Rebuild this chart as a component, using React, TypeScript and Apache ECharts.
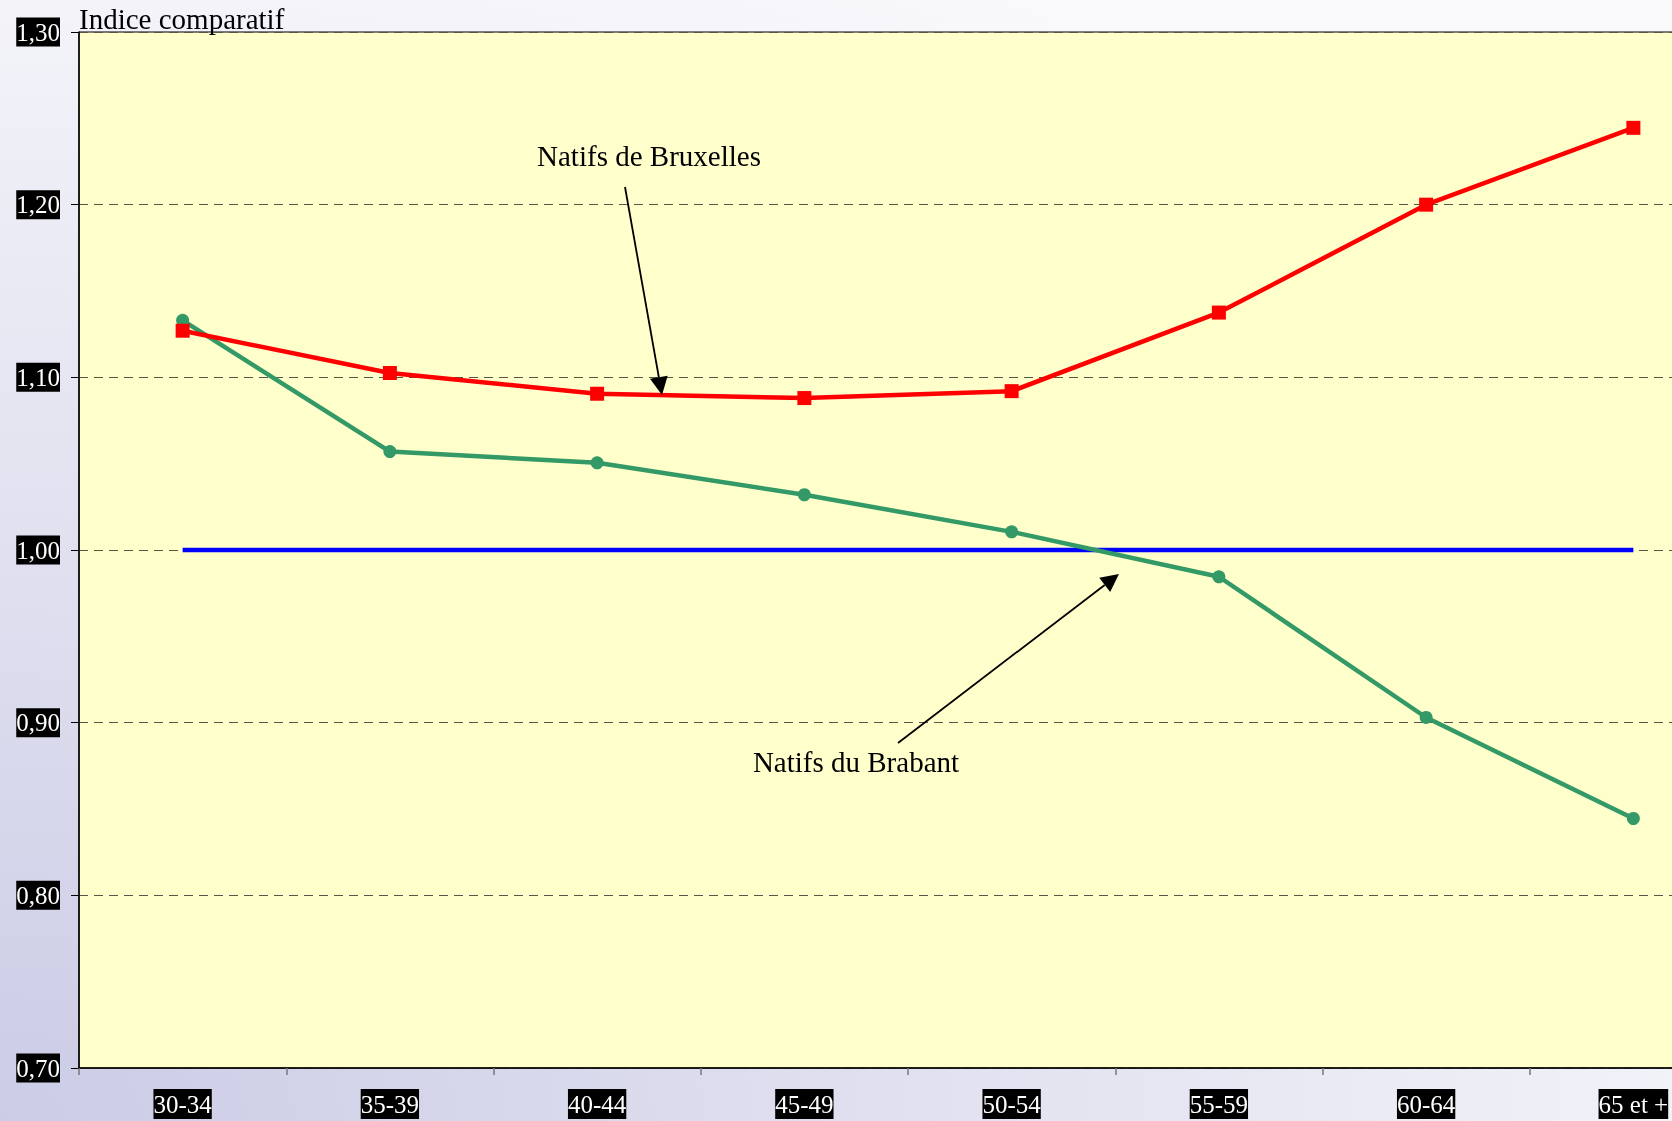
import React, { useEffect, useRef } from "react";
import * as echarts from "echarts";

const categories = ["30-34", "35-39", "40-44", "45-49", "50-54", "55-59", "60-64", "65 et +"];
const bruxelles = [1.127, 1.1025, 1.0905, 1.088, 1.092, 1.1375, 1.2, 1.2445];
const brabant = [1.133, 1.057, 1.0505, 1.032, 1.0105, 0.9845, 0.903, 0.8445];
const reference = [1, 1, 1, 1, 1, 1, 1, 1];
const yTicks = { min: 0.7, max: 1.3, interval: 0.1 };
const yAxisTitle = "Indice comparatif";
const noteBruxelles = "Natifs de Bruxelles";
const noteBrabant = "Natifs du Brabant";

const SERIF = "'Liberation Serif', 'Times New Roman', serif";

function arrowHead(tipX: number, tipY: number, fromX: number, fromY: number, len: number, half: number) {
  const dx = tipX - fromX;
  const dy = tipY - fromY;
  const d = Math.sqrt(dx * dx + dy * dy);
  const ux = dx / d;
  const uy = dy / d;
  const bx = tipX - ux * len;
  const by = tipY - uy * len;
  return [
    [tipX, tipY],
    [bx - uy * half, by + ux * half],
    [bx + uy * half, by - ux * half],
  ];
}

export default function App() {
  const ref = useRef<HTMLDivElement>(null);

  useEffect(() => {
    if (!ref.current) return;
    const chart = echarts.init(ref.current, undefined, { renderer: "svg" });
    const a1 = { x1: 625, y1: 187, x2: 662, y2: 395 };
    const a2 = { x1: 898, y1: 743, x2: 1119, y2: 574 };
    const head1 = arrowHead(a1.x2, a1.y2, a1.x1, a1.y1, 18, 9);
    const head2 = arrowHead(a2.x2, a2.y2, a2.x1, a2.y1, 18, 9);
    chart.setOption({
      animation: false,
      backgroundColor: {
        type: "radial",
        x: 0,
        y: 1,
        r: 1.15,
        colorStops: [
          { offset: 0, color: "#cbcce6" },
          { offset: 0.5, color: "#e3e3f1" },
          { offset: 1, color: "#f9f9fc" },
        ],
      },
      grid: {
        left: 79,
        top: 32,
        width: 1658,
        height: 1036,
        show: true,
        backgroundColor: "#ffffcc",
        borderColor: "#000",
        borderWidth: 1,
      },
      xAxis: {
        type: "category",
        data: categories,
        boundaryGap: true,
        axisLine: { lineStyle: { color: "#000", width: 1.5 } },
        axisTick: { show: true, interval: 0, length: 7, lineStyle: { color: "#777", width: 1.5 } },
        axisLabel: {
          interval: 0,
          margin: 21,
          color: "#fff",
          backgroundColor: "#000",
          fontFamily: SERIF,
          fontSize: 25,
          lineHeight: 30,
          padding: [0, 0, 0, 0],
        },
        splitLine: { show: false },
      },
      yAxis: {
        type: "value",
        min: yTicks.min,
        max: yTicks.max,
        interval: yTicks.interval,
        name: yAxisTitle,
        nameLocation: "end",
        nameGap: 13,
        nameTextStyle: {
          align: "left",
          verticalAlign: "middle",
          color: "#000",
          fontFamily: SERIF,
          fontSize: 29,
          padding: [0, 0, 0, 0],
        },
        axisLine: { show: true, lineStyle: { color: "#000", width: 1.5 } },
        axisTick: { show: true, length: 8, lineStyle: { color: "#000" } },
        axisLabel: {
          margin: 19,
          color: "#fff",
          backgroundColor: "#000",
          fontFamily: SERIF,
          fontSize: 25,
          lineHeight: 29,
          padding: [0, 0, 0, 0],
          formatter: (v: number) => v.toFixed(2).replace(".", ","),
        },
        splitLine: { show: true, lineStyle: { color: "#55554a", type: [9, 6], width: 1 } },
      },
      series: [
        {
          name: "Référence",
          type: "line",
          data: reference,
          symbol: "none",
          lineStyle: { color: "#0000ff", width: 4.5 },
          z: 2,
        },
        {
          name: noteBrabant,
          type: "line",
          data: brabant,
          symbol: "circle",
          symbolSize: 13,
          itemStyle: { color: "#339966" },
          lineStyle: { color: "#339966", width: 4.5 },
          z: 3,
        },
        {
          name: noteBruxelles,
          type: "line",
          data: bruxelles,
          symbol: "rect",
          symbolSize: 14,
          itemStyle: { color: "#ff0000" },
          lineStyle: { color: "#ff0000", width: 4.5 },
          z: 4,
        },
      ],
      graphic: [
        {
          type: "text",
          z: 10,
          style: {
            text: noteBruxelles,
            x: 649,
            y: 156,
            align: "center",
            verticalAlign: "middle",
            fill: "#000",
            font: `29px ${SERIF}`,
          },
        },
        {
          type: "text",
          z: 10,
          style: {
            text: noteBrabant,
            x: 856,
            y: 762,
            align: "center",
            verticalAlign: "middle",
            fill: "#000",
            font: `29px ${SERIF}`,
          },
        },
        {
          type: "line",
          z: 10,
          shape: { x1: a1.x1, y1: a1.y1, x2: (head1[1][0] + head1[2][0]) / 2, y2: (head1[1][1] + head1[2][1]) / 2 },
          style: { stroke: "#000", lineWidth: 1.8 },
        },
        { type: "polygon", z: 10, shape: { points: head1 }, style: { fill: "#000" } },
        {
          type: "line",
          z: 10,
          shape: { x1: a2.x1, y1: a2.y1, x2: (head2[1][0] + head2[2][0]) / 2, y2: (head2[1][1] + head2[2][1]) / 2 },
          style: { stroke: "#000", lineWidth: 1.8 },
        },
        { type: "polygon", z: 10, shape: { points: head2 }, style: { fill: "#000" } },
      ],
    });
    return () => chart.dispose();
  }, []);

  return (
    <div
      style={{
        position: "fixed",
        left: 0,
        top: 0,
        width: 1672,
        height: 1121,
        overflow: "hidden",
      }}
    >
      <div ref={ref} style={{ width: 1760, height: 1121 }} />
    </div>
  );
}
